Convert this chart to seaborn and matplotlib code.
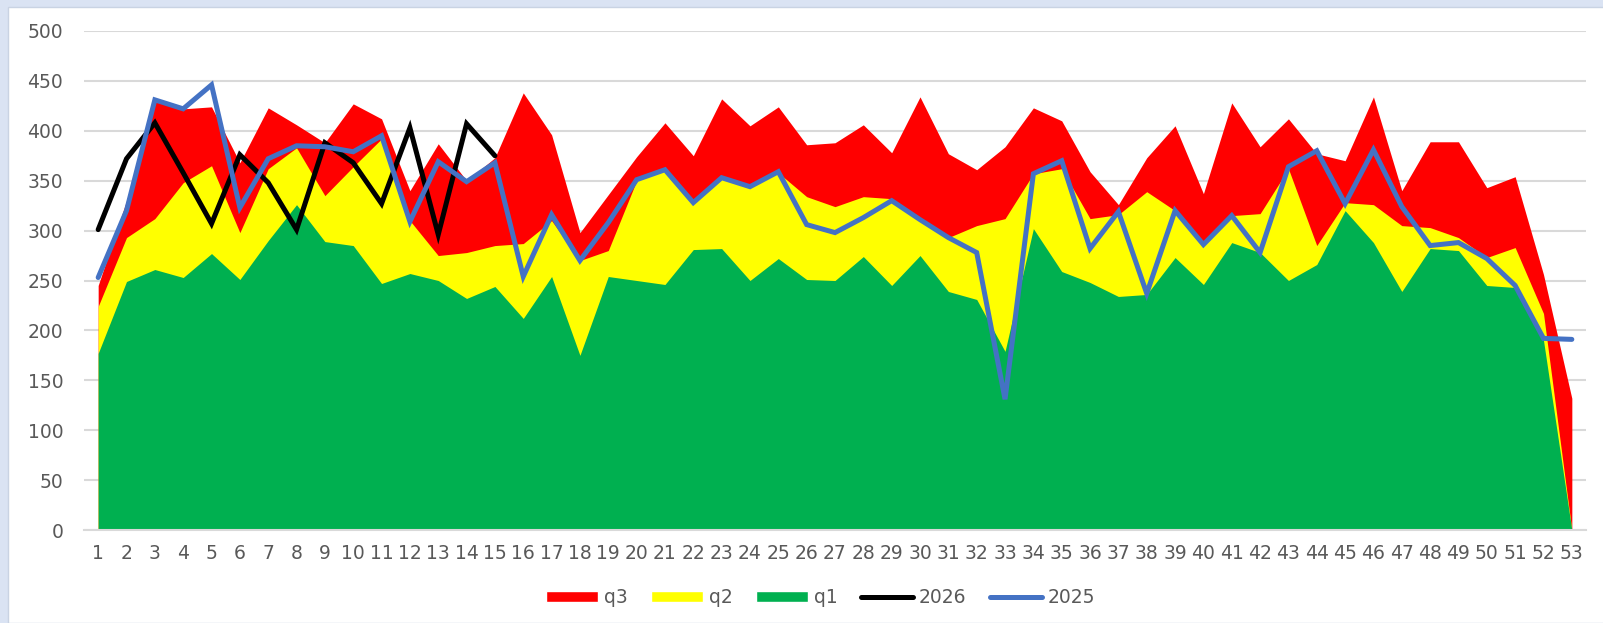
import numpy as np
import pandas as pd
import matplotlib
matplotlib.use("Agg")
import matplotlib.pyplot as plt
import seaborn as sns
from matplotlib.patches import Patch, Rectangle
from matplotlib.lines import Line2D

# weekly values
weeks = list(range(1, 54))

q1 = [177, 249, 261, 253, 277, 251, 290, 326, 289, 285, 247, 257, 250, 232, 244, 212, 254, 175,
      254, 250, 246, 281, 282, 250, 272, 251, 250, 274, 245, 275, 239, 231, 179, 302, 259, 248,
      234, 236, 273, 246, 288, 278, 250, 266, 320, 288, 239, 282, 280, 245, 243, 190, 0]

q2 = [224, 293, 312, 348, 365, 298, 362, 383, 335, 364, 392, 310, 275, 278, 285, 287, 310, 270,
      280, 350, 361, 328, 352, 344, 358, 334, 324, 334, 332, 312, 293, 305, 312, 357, 362, 312,
      316, 339, 320, 288, 315, 317, 362, 285, 328, 326, 305, 303, 293, 273, 283, 217, 0]

q3 = [245, 330, 430, 422, 424, 368, 423, 406, 388, 427, 412, 340, 387, 350, 373, 438, 396, 298,
      336, 374, 408, 375, 432, 405, 424, 386, 388, 406, 378, 434, 377, 361, 384, 423, 410, 359,
      326, 373, 405, 337, 428, 384, 412, 377, 370, 434, 340, 389, 389, 343, 354, 256, 132]

y2026 = [301, 372, 408, 358, 307, 376, 348, 301, 388, 368, 327, 403, 296, 407, 375]

y2025 = [253, 320, 431, 422, 446, 323, 372, 385, 384, 379, 395, 309, 369, 349, 368, 254, 316, 270,
         308, 351, 361, 328, 353, 344, 359, 306, 298, 313, 330, 311, 293, 278, 131, 357, 370, 282,
         319, 237, 320, 286, 315, 278, 364, 380, 327, 381, 324, 285, 288, 272, 245, 192, 191]

sns.set_style("white")
plt.rcParams['font.family'] = ['DejaVu Sans']

c_red, c_yel, c_grn = "#FF0000", "#FFFF00", "#00B050"
c_blk, c_blu = "#000000", "#4472C4"
grey_txt = "#595959"
grid_c = "#D9D9D9"

fig = plt.figure(figsize=(16.03, 6.23), dpi=100)
fig.patch.set_facecolor("#DAE3F3")
fig.patches.append(Rectangle((8 / 1603, 0), 1, 1 - 7 / 623, transform=fig.transFigure,
                             facecolor="white", edgecolor="#C9D3E3", linewidth=1, zorder=-10))

ax = fig.add_axes([84 / 1603, 1 - 530 / 623, 1502 / 1603, 499 / 623])
ax.set_facecolor("none")

# overlapping areas, largest first
ax.fill_between(weeks, 0, q3, color=c_red, linewidth=0, zorder=2)
ax.fill_between(weeks, 0, q2, color=c_yel, linewidth=0, zorder=3)
ax.fill_between(weeks, 0, q1, color=c_grn, linewidth=0, zorder=4)

df26 = pd.DataFrame({"week": weeks[:len(y2026)], "val": y2026})
df25 = pd.DataFrame({"week": weeks, "val": y2025})
sns.lineplot(data=df26, x="week", y="val", color=c_blk, linewidth=3.6, ax=ax, zorder=5,
             solid_joinstyle="miter")
sns.lineplot(data=df25, x="week", y="val", color=c_blu, linewidth=3.6, ax=ax, zorder=6,
             solid_joinstyle="miter")

ax.set_xlim(0.5, 53.5)
ax.set_ylim(0, 500)
ax.set_yticks(range(0, 501, 50))
ax.set_xticks(weeks)
ax.set_xticks(np.arange(0.5, 54, 1), minor=True)
ax.set_xlabel("")
ax.set_ylabel("")
ax.yaxis.grid(True, color=grid_c, linewidth=1.5, zorder=1)
ax.set_axisbelow(True)
for s in ["top", "right", "left"]:
    ax.spines[s].set_visible(False)
ax.spines["bottom"].set_color(grid_c)
ax.spines["bottom"].set_linewidth(1.5)
ax.spines["bottom"].set_zorder(7)

ax.tick_params(axis="y", length=0, pad=15, labelsize=13.5, labelcolor=grey_txt)
ax.tick_params(axis="x", which="major", length=0, pad=10, labelsize=13.5, labelcolor=grey_txt)
ax.tick_params(axis="x", which="minor", length=6, width=1.3, color=grid_c, direction="out")

handles = [Patch(facecolor=c_red), Patch(facecolor=c_yel), Patch(facecolor=c_grn),
           Line2D([], [], color=c_blk, linewidth=3.6, solid_capstyle="round"),
           Line2D([], [], color=c_blu, linewidth=3.6, solid_capstyle="round")]
labels = ["q3", "q2", "q1", "2026", "2025"]
leg = fig.legend(handles, labels, loc="center", bbox_to_anchor=(0.512, 0.041), ncol=5,
                 frameon=False, fontsize=13.5, handlelength=2.75, handleheight=0.55,
                 handletextpad=0.32, columnspacing=1.26)
for t in leg.get_texts():
    t.set_color(grey_txt)

fig.savefig("out.png", dpi=100, facecolor=fig.get_facecolor())
